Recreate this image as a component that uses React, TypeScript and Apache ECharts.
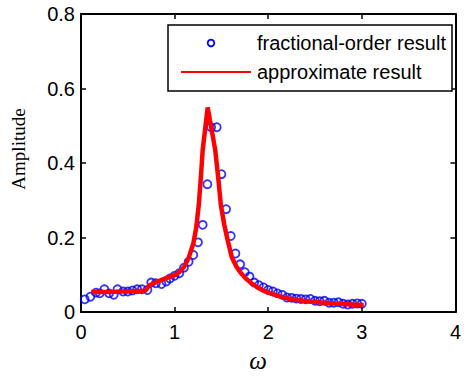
import React, { useEffect, useRef } from "react";
import * as echarts from "echarts";

const xTicks = [0, 1, 2, 3, 4];
const yTicks = [0, 0.2, 0.4, 0.6, 0.8];

const fracOmega = [0.04, 0.10, 0.16, 0.20, 0.25, 0.30, 0.35, 0.39, 0.45, 0.50, 0.55, 0.60, 0.65, 0.71, 0.75, 0.80, 0.86, 0.91, 0.95, 1.00, 1.05, 1.10, 1.15, 1.20, 1.25, 1.30, 1.35, 1.39, 1.45, 1.50, 1.55, 1.60, 1.65, 1.70, 1.75, 1.80, 1.85, 1.90, 1.95, 2.00, 2.05, 2.10, 2.15, 2.20, 2.25, 2.30, 2.35, 2.40, 2.45, 2.50, 2.55, 2.60, 2.65, 2.70, 2.75, 2.80, 2.85, 2.90, 2.95, 3.00];
const fracAmp = [0.034, 0.041, 0.052, 0.050, 0.061, 0.050, 0.046, 0.061, 0.055, 0.055, 0.058, 0.061, 0.061, 0.059, 0.079, 0.077, 0.075, 0.082, 0.090, 0.097, 0.104, 0.119, 0.135, 0.153, 0.187, 0.234, 0.343, 0.496, 0.496, 0.370, 0.276, 0.204, 0.157, 0.128, 0.107, 0.095, 0.079, 0.072, 0.066, 0.059, 0.055, 0.050, 0.046, 0.039, 0.038, 0.036, 0.035, 0.034, 0.035, 0.030, 0.029, 0.030, 0.025, 0.025, 0.026, 0.022, 0.020, 0.022, 0.023, 0.022];

const approxOmega = [0.11, 0.3, 0.5, 0.65, 0.69, 0.73, 0.8, 0.9, 1.0, 1.05, 1.10, 1.15, 1.20, 1.23, 1.258, 1.28, 1.30, 1.353, 1.39, 1.434, 1.47, 1.494, 1.53, 1.56, 1.61, 1.66, 1.70, 1.76, 1.82, 1.90, 1.96, 2.05, 2.14, 2.22, 2.31, 2.45, 2.60, 2.75, 2.90, 3.02];
const approxAmp = [0.054, 0.054, 0.056, 0.057, 0.058, 0.072, 0.080, 0.090, 0.099, 0.107, 0.121, 0.145, 0.184, 0.225, 0.287, 0.36, 0.435, 0.549, 0.497, 0.435, 0.35, 0.287, 0.235, 0.200, 0.148, 0.122, 0.107, 0.090, 0.077, 0.064, 0.056, 0.048, 0.041, 0.036, 0.032, 0.028, 0.025, 0.022, 0.020, 0.019];

const legendLabels = ["fractional-order result", "approximate result"];

const SANS = "'Liberation Sans', Arial, Helvetica, sans-serif";
const SERIF = "'Liberation Serif', 'Times New Roman', serif";

export default function App() {
  const ref = useRef<HTMLDivElement>(null);
  useEffect(() => {
    if (!ref.current) return;
    const chart = echarts.init(ref.current, null, { renderer: "svg" });
    const axisCommon = {
      axisLine: { show: true, onZero: false, lineStyle: { color: "#000", width: 2 } },
      axisTick: { show: true, inside: true, length: 5, lineStyle: { color: "#000", width: 1.5 } },
      splitLine: { show: false },
    };
    chart.setOption({
      animation: false,
      backgroundColor: "#fff",
      grid: { left: 81, right: 4, top: 14, bottom: 64, containLabel: false },
      xAxis: [
        {
          type: "value", min: xTicks[0], max: xTicks[xTicks.length - 1], interval: 1, position: "bottom",
          ...axisCommon,
          axisLabel: { color: "#000", fontSize: 20, fontFamily: SANS, margin: 10 },
        },
        {
          type: "value", min: xTicks[0], max: xTicks[xTicks.length - 1], interval: 1, position: "top",
          ...axisCommon,
          axisLabel: { show: false },
        },
      ],
      yAxis: [
        {
          type: "value", min: yTicks[0], max: yTicks[yTicks.length - 1], interval: 0.2, position: "left",
          ...axisCommon,
          axisLabel: { color: "#000", fontSize: 20, fontFamily: SANS, margin: 6 },
        },
        {
          type: "value", min: yTicks[0], max: yTicks[yTicks.length - 1], interval: 0.2, position: "right",
          ...axisCommon,
          axisLabel: { show: false },
        },
      ],
      series: [
        {
          name: legendLabels[0],
          type: "scatter",
          xAxisIndex: 0,
          yAxisIndex: 0,
          symbol: "circle",
          symbolSize: 8,
          itemStyle: { color: "rgba(0,0,0,0)", borderColor: "#0000ff", borderWidth: 1.8 },
          data: fracOmega.map((w, i) => [w, fracAmp[i]]),
          z: 2,
        },
        {
          name: legendLabels[1],
          type: "line",
          xAxisIndex: 0,
          yAxisIndex: 0,
          showSymbol: false,
          symbol: "none",
          lineStyle: { color: "#ff0000", width: 4.5, join: "miter" },
          data: approxOmega.map((w, i) => [w, approxAmp[i]]),
          z: 3,
        },
      ],
      graphic: [
        {
          type: "text", x: 18, y: 149, rotation: Math.PI / 2, z: 100,
          style: { text: "Amplitude", fontSize: 19, fontFamily: SERIF, fill: "#000", align: "center", verticalAlign: "middle" },
        },
        {
          type: "text", x: 258, y: 360, z: 100,
          style: { text: "ω", fontSize: 25, fontStyle: "italic", fontFamily: SERIF, fill: "#000", align: "center", verticalAlign: "middle" },
        },
        {
          type: "rect", z: 100,
          shape: { x: 168, y: 25, width: 284, height: 66 },
          style: { fill: "#fff", stroke: "#000", lineWidth: 1.5 },
        },
        {
          type: "circle", z: 101,
          shape: { cx: 211, cy: 43, r: 3.3 },
          style: { fill: "none", stroke: "#0000ff", lineWidth: 1.8 },
        },
        {
          type: "line", z: 101,
          shape: { x1: 181, y1: 72, x2: 251, y2: 72 },
          style: { stroke: "#ff0000", lineWidth: 2 },
        },
        {
          type: "text", x: 257, y: 43, z: 101,
          style: { text: legendLabels[0], fontSize: 20, fontFamily: SANS, fill: "#000", align: "left", verticalAlign: "middle" },
        },
        {
          type: "text", x: 257, y: 72, z: 101,
          style: { text: legendLabels[1], fontSize: 20, fontFamily: SANS, fill: "#000", align: "left", verticalAlign: "middle" },
        },
      ],
    });
    return () => chart.dispose();
  }, []);
  return <div ref={ref} style={{ width: 464, height: 376, position: "absolute", left: 0, top: 0 }} />;
}
